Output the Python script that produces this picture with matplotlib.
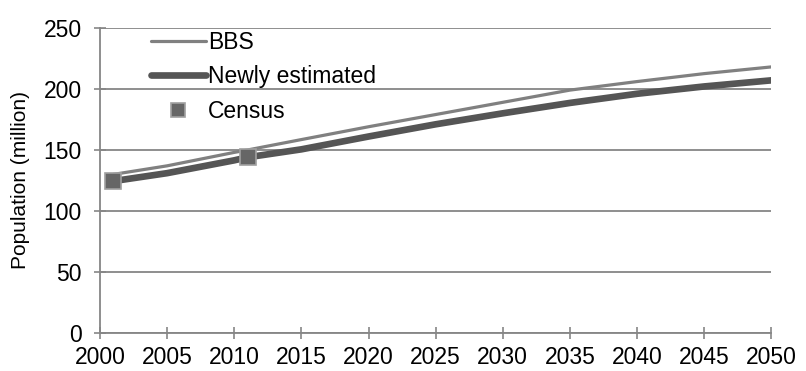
import matplotlib
matplotlib.use("Agg")
import matplotlib.pyplot as plt

plt.rcParams['font.family'] = ['Liberation Sans', 'DejaVu Sans']

years = [2001, 2005, 2010, 2011, 2015, 2020, 2025, 2030, 2035, 2040, 2045, 2050]
bbs = [130, 137, 148, 150, 158.5, 169, 179, 189, 199, 206, 212.5, 218]
newly = [124.5, 131, 141.5, 144, 150.5, 161, 171, 180, 188.5, 196, 202, 207]

census_years = [2001, 2011]
census = [124.4, 144.0]

grid_col = '#868686'

fig = plt.figure(figsize=(8.06, 3.71), dpi=100)
ax = fig.add_axes([0.124, 0.102, 0.833, 0.823])

ax.plot(years, bbs, color='#808080', lw=2.3, label='BBS', solid_capstyle='round', zorder=3)
ax.plot(years, newly, color='#555555', lw=4.8, label='Newly estimated', solid_capstyle='round', zorder=3)
ax.plot(census_years, census, ls='none', marker='s', ms=12, mfc='#666666', mec='#a0a0a0',
        mew=1.2, label='Census', zorder=4)

ax.set_xlim(2000, 2050)
ax.set_ylim(0, 250)
ax.set_xticks(range(2000, 2051, 5))
ax.set_yticks(range(0, 251, 50))
ax.yaxis.grid(True, color=grid_col, lw=1.3)
ax.set_axisbelow(True)
for s in ['top', 'right']:
    ax.spines[s].set_visible(False)
for s in ['left', 'bottom']:
    ax.spines[s].set_color(grid_col)
    ax.spines[s].set_linewidth(1.3)
ax.tick_params(axis='both', colors=grid_col, labelcolor='black', labelsize=16.5,
               width=1.2, direction='inout')
ax.tick_params(axis='x', length=9, pad=5)
ax.tick_params(axis='y', length=8, pad=9)
ax.set_ylabel('Population (million)', fontsize=15, labelpad=10)

ax.legend(loc='upper left', bbox_to_anchor=(0.062, 1.02), frameon=False, fontsize=16.5,
          handlelength=2.4, handletextpad=0.1, labelspacing=0.5, borderaxespad=0,
          markerscale=0.8)

fig.savefig('out.png', dpi=100)
